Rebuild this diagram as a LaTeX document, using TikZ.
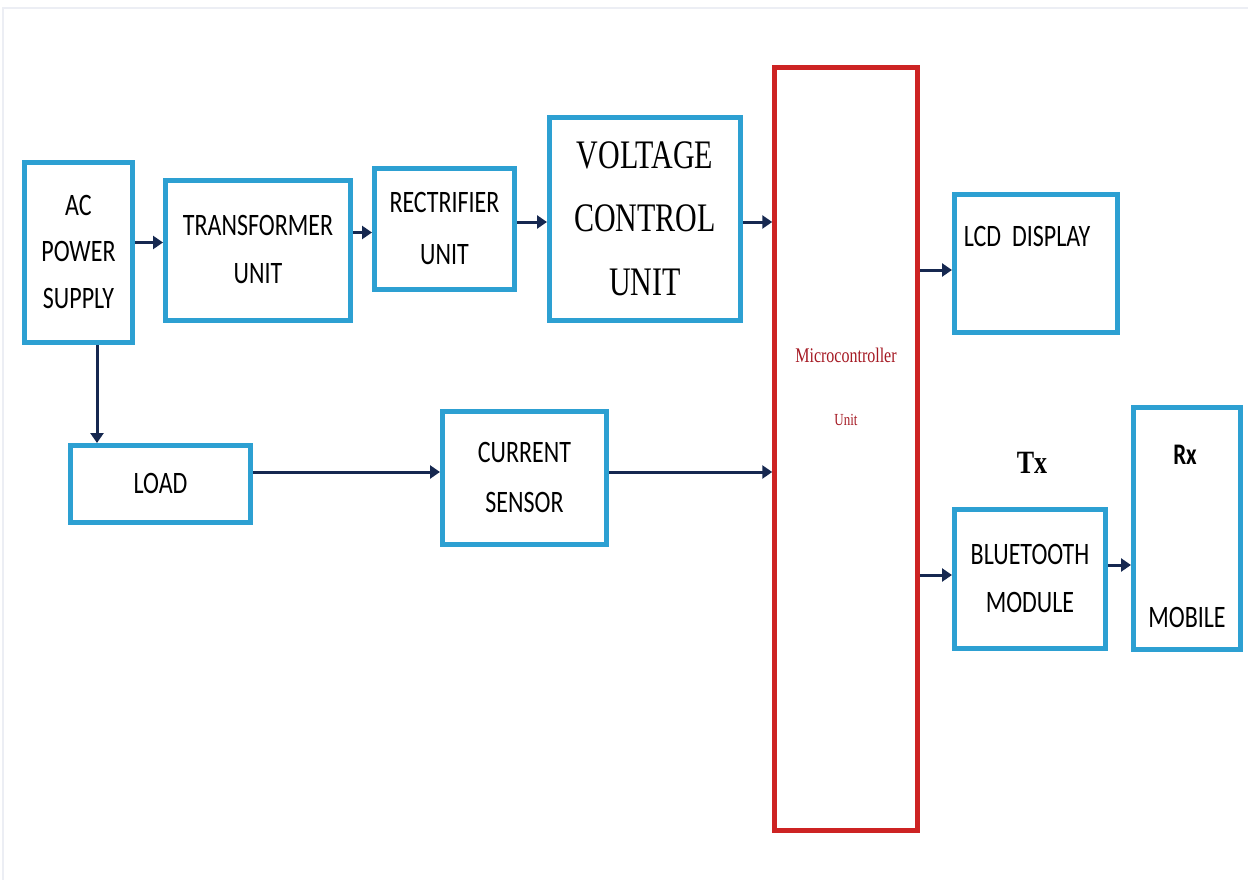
\documentclass[tikz,border=0pt]{standalone}
\usepackage{fontspec}
\usepackage{graphicx}
\setmainfont{Carlito}
\newfontfamily\serifx{Liberation Serif}
\usetikzlibrary{arrows.meta}
\definecolor{boxblue}{RGB}{45,160,210}
\definecolor{mcured}{RGB}{205,35,35}
\definecolor{arrownavy}{RGB}{22,40,80}
\definecolor{txtred}{RGB}{165,25,35}
\definecolor{framegray}{RGB}{236,238,244}
\newcommand{\tall}[2][1.3]{\scalebox{1}[#1]{\begin{tabular}{@{}c@{}}#2\end{tabular}}}
\tikzset{
  bluebox/.style={draw=boxblue, line width=5pt, inner sep=0pt, font=\fontsize{24}{36}\selectfont},
  redbox/.style={draw=mcured, line width=4.5pt, inner sep=0pt},
  conn/.style={draw=arrownavy, line width=3pt, -{Triangle[length=10pt,width=13pt]}},
}
\begin{document}
\begin{tikzpicture}[x=1pt,y=-1pt]
\useasboundingbox (0,0) rectangle (1248,880);
\fill[white] (0,0) rectangle (1248,880);
\draw[framegray, line width=2pt] (3,880) -- (3,8) -- (1248,8);

\node[bluebox, minimum width=108pt, minimum height=180pt] (ac) at (78.5,252.5) {\tall{AC\\POWER\\SUPPLY}};
\node[bluebox, minimum width=185pt, minimum height=140pt] (tr) at (258,250.5) {\tall{TRANSFORMER\\[1pt]UNIT}};
\node[bluebox, minimum width=140pt, minimum height=121pt] (re) at (444.5,229) {\tall{RECTRIFIER\\[4pt]UNIT}};
\node[bluebox, minimum width=191pt, minimum height=203pt, font=\serifx\fontsize{30}{47}\selectfont] (vc) at (645,219) {\tall[1.35]{VOLTAGE\\CONTROL\\UNIT}};
\node[redbox, minimum width=143pt, minimum height=763pt] (mcu) at (846,449) {};
\node[font=\serifx\fontsize{16}{18}\selectfont, text=txtred] (mcut) at (846,355) {\scalebox{1}[1.3]{Microcontroller}};
\node[font=\serifx\fontsize{13}{15}\selectfont, text=txtred] (mcuu) at (846,420) {\scalebox{1}[1.3]{Unit}};
\node[bluebox, minimum width=163pt, minimum height=138pt] (lcd) at (1036,263.5) {};
\node (lcdt) at (1027,237) {\fontsize{24}{36}\selectfont\tall{LCD\ \ DISPLAY}};
\node[bluebox, minimum width=180pt, minimum height=77pt] (load) at (160.5,484) {\tall{LOAD}};
\node[bluebox, minimum width=164pt, minimum height=133pt] (cs) at (524.5,478) {\tall{CURRENT\\[2pt]SENSOR}};
\node[bluebox, minimum width=151pt, minimum height=139pt] (bt) at (1030,579) {\tall{BLUETOOTH\\[1pt]MODULE}};
\node[bluebox, minimum width=107pt, minimum height=242pt] (mob) at (1187,528.5) {};
\node (rx) at (1185,455) {\fontsize{23}{26}\selectfont\bfseries\scalebox{1}[1.3]{Rx}};
\node (mobt) at (1187,617) {\fontsize{24}{36}\selectfont\scalebox{1}[1.3]{MOBILE}};
\node (tx) at (1032,463) {\serifx\fontsize{26}{30}\selectfont\bfseries\scalebox{1}[1.25]{Tx}};

\draw[conn] ([yshift=10pt]ac.east) -- ([yshift=10pt]ac.east -| tr.west);
\draw[conn] ([yshift=18pt]tr.east) -- ([yshift=18pt]tr.east -| re.west);
\draw[conn] ([yshift=7pt]re.east) -- ([yshift=7pt]re.east -| vc.west);
\draw[conn] ([yshift=-3pt]vc.east) -- ([yshift=-3pt]vc.east -| mcu.west);
\draw[conn] ([xshift=18.5pt]ac.south) -- ([xshift=18.5pt]ac.south |- load.north);
\draw[conn] ([yshift=12pt]load.east) -- ([yshift=12pt]load.east -| cs.west);
\draw[conn] ([yshift=6pt]cs.east) -- ([yshift=6pt]cs.east -| mcu.west);
\draw[conn] ([yshift=-6.5pt]lcd.west -| mcu.east) -- ([yshift=-6.5pt]lcd.west);
\draw[conn] ([yshift=4pt]bt.west -| mcu.east) -- ([yshift=4pt]bt.west);
\draw[conn] ([yshift=14pt]bt.east) -- ([yshift=14pt]bt.east -| mob.west);
\end{tikzpicture}
\end{document}
